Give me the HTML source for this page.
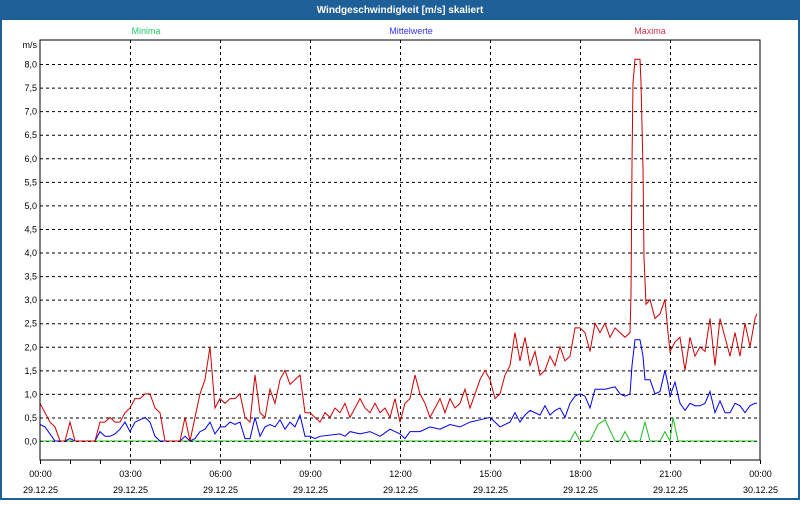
<!DOCTYPE html>
<html><head><meta charset="utf-8"><style>
body{margin:0;width:800px;height:500px;overflow:hidden;background:#fff;font-family:"Liberation Sans",sans-serif}
</style></head><body>
<svg id="s" width="800" height="500" xmlns="http://www.w3.org/2000/svg" font-family="Liberation Sans, sans-serif">
<rect x="0" y="0" width="800" height="500" fill="#1d5f96"/>
<rect x="2" y="20" width="796" height="478" fill="#fff"/>
<text x="400" y="13" fill="#fff" font-size="10" font-weight="bold" text-anchor="middle">Windgeschwindigkeit [m/s] skaliert</text>
<text x="146" y="34" fill="#22cc66" font-size="9" text-anchor="middle">Minima</text>
<text x="411" y="34" fill="#3333ff" font-size="9" text-anchor="middle">Mittelwerte</text>
<text x="650" y="34" fill="#cc3355" font-size="9" text-anchor="middle">Maxima</text>
<text x="37" y="48" font-size="9" text-anchor="end">m/s</text>
<g id="g"></g>
<rect x="40" y="40" width="720" height="420" fill="none" stroke="#000" stroke-width="1"/>
</svg>
<script>
var g=document.getElementById('g'),NS='http://www.w3.org/2000/svg';
function el(t,a,txt){var e=document.createElementNS(NS,t);for(var k in a)e.setAttribute(k,a[k]);if(txt)e.textContent=txt;g.appendChild(e);return e;}
function Y(v){return 441-v*47.125;}
for(var i=0;i<=16;i++){var y=Y(i*0.5)+0.5;el('line',{x1:40,x2:760,y1:y,y2:y,stroke:'#000','stroke-dasharray':'3,3'});
el('text',{x:37,y:y+3,'font-size':9,'text-anchor':'end'},(i*0.5).toFixed(1).replace('.',','));}
for(var h=0;h<=24;h++){var x=40+h*30+0.5;
if(h%3==0&&h>0&&h<24)el('line',{x1:x,x2:x,y1:40,y2:460,stroke:'#000','stroke-dasharray':'3,3'});
el('line',{x1:x,x2:x,y1:460,y2:464,stroke:'#000'});
if(h%3==0){var lbl=('0'+(h%24)).slice(-2)+':00';el('text',{x:x,y:477,'font-size':9,'text-anchor':'middle'},lbl);
el('text',{x:x,y:493,'font-size':9,'text-anchor':'middle'},h==24?'30.12.25':'29.12.25');}}
var red=[40,.8,45,.6,50,.4,55,.3,60,0,65,0,70,.4,75,0,95,0,100,.4,105,.4,110,.5,115,.4,120,.4,125,.6,130,.7,135,.9,140,.9,145,1,150,1,155,.7,160,.6,165,0,180,0,185,.5,190,0,195,.5,200,1,205,1.3,210,2,215,.7,220,.9,225,.8,230,.9,235,.9,240,1,245,.5,250,.4,255,1.4,260,.6,265,.5,270,1.1,275,.8,280,1.3,285,1.5,290,1.2,295,1.3,300,1.4,305,.6,310,.6,315,.5,320,.4,325,.6,330,.5,335,.7,340,.6,345,.8,350,.5,355,.7,360,.9,365,.7,370,.6,375,.8,380,.6,385,.7,390,.5,395,.9,400,.4,405,.8,410,.9,415,1.4,420,1,425,.8,430,.5,435,.7,440,.9,445,.6,450,.9,455,.7,460,.8,465,1.1,470,.7,475,1,480,1.3,485,1.5,490,1.3,495,.9,500,1,505,1.4,510,1.6,515,2.3,520,1.7,525,2.2,530,1.6,535,1.9,540,1.4,545,1.5,550,1.8,555,1.6,560,2,565,1.7,570,1.8,575,2.4,580,2.4,585,2.3,590,1.9,595,2.5,600,2.3,605,2.5,610,2.2,615,2.4,620,2.3,625,2.2,630,2.3,631,3.1,632,5.9,633,7.6,635,8.1,640,8.1,641,7.6,643,5.8,644,3.9,646,2.9,650,3,655,2.6,660,2.7,665,3,668,2.3,670,1.9,675,2.1,680,2.2,685,1.5,690,2.2,695,1.8,700,2,705,1.9,710,2.6,715,1.6,720,2.6,725,2.2,730,1.8,735,2.3,740,1.8,745,2.5,750,2,755,2.6,757,2.7];
var blue=[40,.35,45,.3,50,.15,55,0,65,0,70,.05,75,0,95,0,100,.2,105,.1,110,.1,115,.15,120,.25,125,.4,130,.2,135,.4,140,.45,145,.5,150,.4,155,.1,160,0,180,0,185,.1,190,0,195,.05,200,.2,205,.25,210,.4,215,.15,220,.3,225,.3,230,.4,235,.35,240,.4,245,.05,250,.05,255,.5,260,.1,265,.3,270,.35,275,.3,280,.45,285,.25,290,.4,295,.3,300,.55,305,.1,310,.1,315,.05,320,.1,340,.15,345,.1,350,.2,360,.15,370,.2,380,.1,390,.25,400,.15,405,.05,410,.2,420,.2,430,.3,440,.25,450,.35,460,.3,470,.4,480,.45,490,.5,495,.4,500,.3,510,.4,515,.6,520,.4,525,.55,530,.65,540,.55,545,.75,550,.55,555,.65,560,.7,565,.5,570,.8,575,.95,580,1,585,.95,590,.7,595,1.1,605,1.1,615,1.15,620,1,625,.95,630,1,632,1.6,635,2.15,640,2.15,643,1.8,645,1.3,650,1.3,655,1,660,1.05,665,1.5,668,1.2,670,.95,675,1.25,680,.8,685,.65,690,.8,695,.75,700,.75,705,.8,710,1.05,715,.6,720,.85,725,.6,730,.6,735,.8,740,.75,745,.6,750,.75,755,.8,757,.8];
var green=[40,0,570,0,575,.2,580,0,590,0,598,.35,605,.45,615,0,620,0,625,.2,630,0,640,0,645,.4,650,0,660,0,665,.2,670,0,673,.5,678,0,757,0];
function pl(a,c){var p='';for(var i=0;i<a.length;i+=2)p+=a[i]+','+Y(a[i+1]).toFixed(1)+' ';el('polyline',{points:p,fill:'none',stroke:c,'stroke-width':1});}
pl(green,'#22bb22');pl(blue,'#0000ee');pl(red,'#cc0000');
</script>
</body></html>
